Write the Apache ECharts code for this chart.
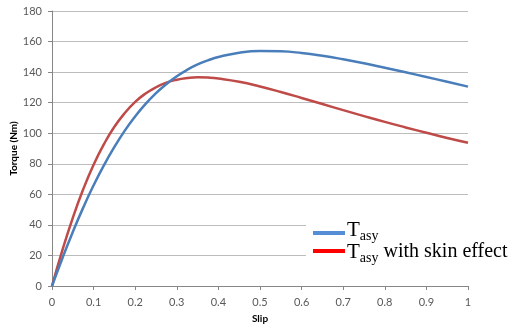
<!DOCTYPE html>
<html>
<head>
<meta charset="utf-8">
<script src="https://cdn.jsdelivr.net/npm/echarts@6/dist/echarts.min.js"></script>
<style>
  html, body { margin: 0; padding: 0; background: #fff; }
  #chart { width: 511px; height: 329px; }
</style>
</head>
<body>
<div id="chart"></div>
<script>
// Slip values (x) and torque values in Nm for both curves
const slip = [0, 0.025, 0.05, 0.075, 0.1, 0.125, 0.15, 0.175, 0.2, 0.225, 0.25,
              0.275, 0.3, 0.325, 0.35, 0.375, 0.4, 0.45, 0.5,
              0.55, 0.6, 0.65, 0.7, 0.75, 0.8, 0.85, 0.9, 0.95, 1.0];
const tAsy = [0, 18.2, 35.4, 51.3, 65.9, 79.1, 91.0, 101.7, 111.0, 119.2, 126.2,
              132.2, 137.3, 141.5, 145.0, 147.7, 149.9, 152.7, 153.8,
              153.6, 152.5, 150.7, 148.4, 145.8, 142.9, 139.9, 136.8, 133.7, 130.5];
const tAsySkin = [0, 23.5, 44.6, 63.3, 79.4, 92.9, 104.2, 113.2, 120.5, 126.0, 130.1,
                  133.1, 135.0, 136.1, 136.6, 136.4, 135.8, 133.7, 130.6,
                  127.0, 123.1, 119.1, 115.1, 111.2, 107.4, 103.8, 100.3, 96.9, 93.8];
const yTicks = { min: 0, max: 180, interval: 20 };
const xTicks = { min: 0, max: 1, interval: 0.1 };

const pairs = (xs, ys) => xs.map((x, i) => [x, ys[i]]);

const labelFont = { fontFamily: 'Lato', fontSize: 11, color: '#595959' };
const legendRich = {
  T: { fontFamily: 'Liberation Serif', fontSize: 21, lineHeight: 24, verticalAlign: 'top', color: '#000' },
  s: { fontFamily: 'Liberation Serif', fontSize: 14, lineHeight: 14, verticalAlign: 'top', padding: [9, 0, 0, 0], color: '#000' },
  w: { fontFamily: 'Liberation Serif', fontSize: 20, lineHeight: 24, verticalAlign: 'top', color: '#000' }
};

const chart = echarts.init(document.getElementById('chart'), null, { renderer: 'canvas' });
chart.setOption({
  animation: false,
  backgroundColor: '#fff',
  grid: { left: 52, right: 43, top: 11, bottom: 43, containLabel: false, outerBoundsMode: 'none' },
  xAxis: {
    type: 'value',
    min: xTicks.min, max: xTicks.max, interval: xTicks.interval,
    name: 'Slip', nameLocation: 'middle', nameGap: 28, nameMoveOverlap: false,
    nameTextStyle: { fontFamily: 'Lato', fontSize: 10, fontWeight: 'bold', color: '#000' },
    axisLine: { lineStyle: { color: '#868686', width: 1 } },
    axisTick: { show: true, length: 4, lineStyle: { color: '#868686' } },
    axisLabel: Object.assign({ margin: 11 }, labelFont),
    splitLine: { show: false }
  },
  yAxis: {
    type: 'value',
    min: yTicks.min, max: yTicks.max, interval: yTicks.interval,
    name: 'Torque (Nm)', nameLocation: 'middle', nameGap: 33, nameMoveOverlap: false,
    nameTextStyle: { fontFamily: 'Lato', fontSize: 10, fontWeight: 'bold', color: '#000' },
    axisLine: { show: true, lineStyle: { color: '#868686', width: 1 } },
    axisTick: { show: true, length: 4, lineStyle: { color: '#868686' } },
    axisLabel: Object.assign({ margin: 10 }, labelFont),
    splitLine: { show: true, lineStyle: { color: '#bdbdbd', width: 1 } }
  },
  series: [
    {
      name: 'Tasy', type: 'line', data: pairs(slip, tAsy),
      smooth: true, showSymbol: false,
      lineStyle: { color: '#4a7ebb', width: 2.5 }, z: 3
    },
    {
      name: 'Tasy with skin effect', type: 'line', data: pairs(slip, tAsySkin),
      smooth: true, showSymbol: false,
      lineStyle: { color: '#be4b48', width: 2.5 }, z: 2
    }
  ],
  graphic: [
    // legend panel
    { type: 'rect', left: 306, top: 222, z: 10,
      shape: { width: 205, height: 46 }, style: { fill: '#fff' } },
    { type: 'rect', left: 313, top: 231, z: 11,
      shape: { width: 32, height: 4 }, style: { fill: '#558ed5' } },
    { type: 'rect', left: 313, top: 249, z: 11,
      shape: { width: 32, height: 4 }, style: { fill: '#ff0000' } },
    { type: 'text', left: 347, top: 220, z: 11,
      style: { text: '{T|T}{s|asy}', rich: legendRich } },
    { type: 'text', left: 347, top: 242, z: 11,
      style: { text: '{T|T}{s|asy}{w| with skin effect}', rich: legendRich } }
  ]
});
</script>
</body>
</html>
